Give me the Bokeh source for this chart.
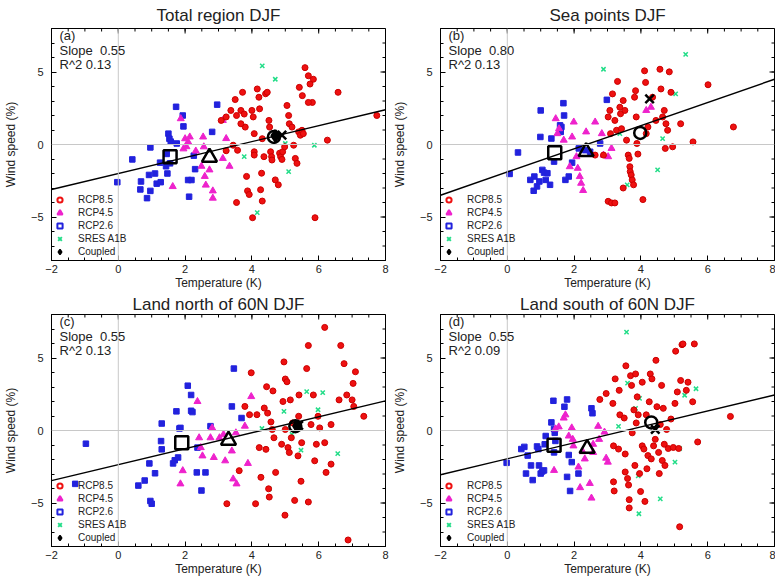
import numpy as np
from bokeh.plotting import figure
from bokeh.models import (Range1d, FixedTicker, Span, Label, Legend, LegendItem)
from bokeh.layouts import column, row
from bokeh.embed import file_html
from bokeh.resources import INLINE

# ---------------- data ----------------
X_MIN, X_MAX = -2, 8
Y_MIN, Y_MAX = -8, 8
X_TICKS = [-2, 0, 2, 4, 6, 8]
Y_TICKS = [-5, 0, 5]
SERIES_LABELS = ["RCP8.5", "RCP4.5", "RCP2.6", "SRES A1B", "Coupled"]

# Panel (a) Total region
A_TITLE = "Total region DJF"
A_TAG = "(a)"
A_SLOPE, A_R2, A_INTERCEPT = 0.55, 0.13, -2.0
A_RCP26_T = [0.42, -0.03, 0.66, 0.68, 0.86, 0.96, 0.92, 0.96, 1.1, 1.15, 1.27, 1.25, 1.43, 1.47, 1.45, 1.5, 1.53, 1.57, 1.73, 1.75, 1.93, 1.95, 2.09, 2.12, 2.19, 2.26, 2.3, 2.96, 2.81, 1.55]
A_RCP26_W = [-1.03, -2.6, -3.1, -2.55, -3.7, -3.2, -2.1, -0.2, -2.0, -2.7, -2.6, -1.25, -1.5, -2.0, -0.65, 0.75, 0.4, 0.2, 2.6, 0.07, 2.0, 1.25, -2.45, -3.6, -2.45, -0.77, -1.7, 2.75, 0.87, -1.3]
A_RCP45_T = [1.87, 2.0, 2.04, 2.09, 2.14, 1.95, 1.63, 2.54, 2.56, 2.59, 2.62, 2.83, 2.83, 2.73, 3.13, 3.23, 3.33, 3.13, 2.32, 2.49]
A_RCP45_W = [1.78, 0.4, -0.15, 0.18, 0.52, -0.3, -2.9, 0.52, -0.16, -2.2, -2.8, -3.2, -3.7, -1.75, -0.96, 0.41, -1.5, 1.66, -0.45, -1.5]
A_RCP85_T = [3.08, 3.23, 3.37, 3.44, 3.5, 3.54, 3.57, 3.72, 3.67, 3.77, 3.8, 3.84, 3.87, 3.92, 3.54, 4.0, 4.04, 4.07, 4.07, 4.02, 4.16, 4.21, 4.23, 4.26, 4.29, 4.31, 4.36, 4.41, 4.46, 4.51, 4.53, 4.56, 4.59, 4.6, 4.7, 4.79, 4.83, 4.86, 4.9, 4.92, 4.98, 5.05, 5.1, 5.12, 5.2, 5.25, 5.3, 5.35, 5.4, 5.45, 5.5, 5.54, 5.42, 5.51, 5.59, 5.69, 5.74, 5.84, 5.81, 5.69, 5.89, 6.26, 6.58, 7.74, 3.67, 4.07, 4.31, 4.7, 3.23]
A_RCP85_W = [1.66, 1.9, 2.35, -0.05, 3.1, 2.0, -0.4, 3.6, 2.35, 2.1, 1.2, -2.2, -3.2, -3.45, -4.0, 2.35, 1.9, -0.5, -0.73, -5.05, 3.83, 3.26, 2.46, -3.12, -1.98, -3.9, -0.84, 3.5, 3.6, 1.66, 1.2, -0.5, -0.84, -1.07, -2.44, -2.78, -0.6, -0.84, -1.03, -0.5, -0.16, 2.69, 2.0, 1.43, 1.2, -0.05, -0.96, -1.3, 0.87, 0.64, 0.98, 0.75, 3.94, 3.37, 5.3, 4.74, 4.17, 4.5, 2.9, 2.9, -5.05, 0.3, 3.6, 2.0, 1.43, 0.75, 0.4, 0.52, -0.43]
A_A1B_T = [4.31, 4.7, 4.16, 5.87, 5.1, 3.77, 5.0]
A_A1B_W = [5.42, 4.5, -4.7, -0.05, -1.87, -0.84, 0.07]
# means: RCP2.6, RCP4.5, RCP8.5, SRES A1B, Coupled
A_MEAN_T = [1.55, 2.73, 4.66, 4.9, 4.7]
A_MEAN_W = [-0.84, -0.89, 0.52, 0.64, 0.6]

# Panel (b) Sea points
B_TITLE = "Sea points DJF"
B_TAG = "(b)"
B_SLOPE, B_R2, B_INTERCEPT = 0.80, 0.13, -1.9
B_RCP26_T = [0.32, 0.07, 0.69, 0.79, 0.89, 0.81, 0.96, 0.99, 1.0, 1.05, 1.1, 1.15, 1.2, 1.28, 1.32, 1.4, 1.58, 1.6, 1.62, 1.68, 1.7, 1.74, 1.84, 1.94, 2.33, 2.48, 2.78, 2.98, 2.14]
B_RCP26_W = [-0.55, -2.03, -2.44, -3.19, -2.89, -2.21, -2.55, 0.52, 2.35, -1.75, -1.94, -2.44, -1.98, -2.78, 0.41, -1.18, 1.32, 0.87, 1.21, 2.85, 2.0, -2.44, -2.21, -1.25, -0.39, -0.5, 0.07, 3.08, -0.27]
B_RCP45_T = [1.45, 1.5, 1.55, 1.69, 1.87, 1.94, 1.99, 2.07, 2.11, 2.17, 2.21, 2.27, 2.36, 2.63, 2.83, 2.88, 3.02, 4.3, 4.16, 3.12]
B_RCP45_W = [1.78, 0.75, 1.09, 0.3, -1.53, 0.52, 1.55, -0.84, -1.64, -2.21, -2.67, -3.17, 0.87, 1.55, 0.75, -0.73, -0.84, 2.57, 2.35, -0.27]
B_RCP85_T = [3.02, 3.07, 3.09, 3.15, 3.22, 3.27, 3.3, 3.37, 3.39, 3.42, 3.47, 3.52, 3.57, 3.62, 3.65, 3.67, 3.68, 3.71, 3.74, 3.78, 3.81, 3.84, 3.86, 3.88, 3.91, 4.06, 4.11, 4.14, 4.16, 4.21, 4.35, 4.45, 4.57, 4.6, 4.65, 4.7, 4.75, 4.8, 4.85, 4.9, 4.73, 4.95, 5.19, 5.56, 6.01, 6.77, 3.02, 3.12, 3.22, 2.63, 2.88, 3.47]
B_RCP85_W = [1.9, 2.35, 0.75, 3.49, 1.66, 0.98, 4.35, 2.57, 2.12, 1.09, 3.03, 2.35, 0.3, -0.73, -0.96, -1.53, -1.87, -2.1, -2.44, -2.78, 3.26, 3.71, 1.9, 0.07, -0.66, -3.8, 5.08, 4.28, 0.75, 1.21, 3.26, 1.66, 5.19, 3.83, 1.9, 2.35, 1.43, 0.98, 5.01, 3.6, -0.27, -0.16, 1.43, 0.18, 4.12, 1.21, -3.92, -4.03, -4.03, -0.73, -0.73, -3.0]
B_A1B_T = [5.34, 2.88, 5.04, 4.5, 3.59, 4.65, 3.37]
B_A1B_W = [6.22, 5.19, 3.49, -1.75, -2.78, 0.41, 0.75]
B_MEAN_T = [1.42, 2.36, 3.98, 4.26]
B_MEAN_W = [-0.57, -0.5, 0.8, 3.14]

# Panel (c) Land north of 60N
C_TITLE = "Land north of 60N DJF"
C_TAG = "(c)"
C_SLOPE, C_R2, C_INTERCEPT = 0.55, 0.13, -2.36
C_RCP26_T = [-0.97, -1.29, 0.6, 0.79, 0.96, 1.0, 0.93, 1.1, 1.3, 1.28, 1.3, 1.64, 1.69, 1.74, 1.79, 1.83, 1.86, 2.08, 2.18, 2.18, 2.22, 2.35, 2.49, 2.61, 2.76, 3.46, 3.4, 3.69, 2.37]
C_RCP26_W = [-0.91, -3.68, -3.8, -3.45, -4.86, -5.05, -2.27, -2.95, 0.48, -0.73, -1.3, -2.27, -2.05, 1.32, -1.86, 0.14, 0.18, 3.09, 2.45, 1.36, 1.27, -2.89, -4.14, -2.89, 0.3, 4.27, 1.66, 0.86, -1.18]
C_RCP45_T = [1.86, 1.93, 2.37, 2.42, 2.47, 2.52, 2.76, 2.81, 2.86, 3.03, 3.15, 3.4, 3.44, 3.54, 3.88, 3.98, 3.79, 3.52, 3.2]
C_RCP45_W = [-3.68, -2.77, 2.0, -0.5, -1.18, -1.75, -0.5, 0.18, -1.86, -0.5, -0.27, -1.41, -3.34, -3.68, -2.27, 2.34, 0.3, -0.16, -2.09]
C_RCP85_T = [3.25, 3.62, 3.79, 3.93, 3.98, 4.11, 4.15, 4.22, 4.27, 4.37, 4.42, 4.44, 4.47, 4.5, 4.52, 4.57, 4.61, 4.63, 4.66, 4.71, 4.89, 4.93, 4.96, 4.99, 5.0, 5.05, 5.08, 5.12, 5.15, 5.18, 5.22, 5.28, 5.38, 5.4, 5.41, 5.47, 5.49, 5.64, 5.69, 5.69, 5.77, 5.84, 5.88, 5.93, 5.98, 6.03, 6.18, 6.18, 6.22, 6.37, 6.61, 6.66, 6.76, 6.84, 6.88, 7.03, 7.05, 7.1, 7.35, 7.0, 6.37, 5.0]
C_RCP85_W = [-5.05, -2.77, 1.66, 1.09, 3.98, -5.05, 1.09, -1.18, -3.23, 1.55, -1.3, 3.02, 1.2, -4.02, -4.59, 0.59, 0.07, 2.73, -0.5, -2.89, -0.95, 2.0, 4.73, -5.84, 3.55, 3.36, -1.18, -1.52, 2.11, -0.5, 0.52, -4.82, -1.75, 0.98, 2.45, -3.5, -0.84, 4.27, 5.86, -4.93, 0.41, 2.45, -2.09, -0.95, 0.98, 0.18, 7.11, -0.84, -2.89, -2.32, 2.11, 5.86, 4.61, 2.45, -7.55, 3.25, 1.66, 4.05, 0.98, 2.11, 0.41, 0.07]
C_A1B_T = [5.64, 5.98, 6.12, 5.2, 5.47, 6.57, 4.52, 4.3, 4.96]
C_A1B_W = [2.68, 1.43, 2.61, -0.27, -1.36, -1.59, -4.02, 0.14, 1.32]
C_MEAN_T = [1.9, 3.3, 5.3, 5.4, 5.35]
C_MEAN_W = [-0.84, -0.68, 0.3, 0.36, 0.3]

# Panel (d) Land south of 60N
D_TITLE = "Land south of 60N DJF"
D_TAG = "(d)"
D_SLOPE, D_R2, D_INTERCEPT = 0.55, 0.09, -1.95
D_RCP26_T = [-0.02, 0.42, 0.51, 0.61, 0.56, 0.71, 0.76, 0.89, 0.93, 0.95, 1.0, 1.05, 1.1, 1.12, 1.15, 1.32, 1.38, 1.4, 1.42, 1.44, 1.71, 1.79, 1.84, 1.88, 1.93, 2.13, 2.52, 2.55, 1.79, 1.4]
D_RCP26_W = [-2.23, -1.28, -1.13, -1.73, -2.97, -2.41, -3.42, -1.1, -1.28, -2.41, -2.97, -2.82, -2.75, -0.95, -0.38, 0.56, 2.05, 0.11, -0.16, -0.72, 1.64, 2.14, -1.69, -4.17, -2.18, -2.97, 1.53, 1.19, -3.2, -1.51]
D_RCP45_T = [1.4, 1.44, 1.54, 1.69, 1.74, 1.84, 1.93, 1.96, 1.98, 2.13, 2.18, 2.26, 2.32, 2.47, 2.52, 2.57, 2.72, 2.75, 2.91, 2.96, 3.01, 2.57]
D_RCP45_W = [-2.75, 0.11, 0.25, 0.86, 1.08, -0.38, 0.18, -0.61, -1.06, -2.52, -3.94, -1.46, -1.96, -3.65, -4.66, -1.51, 0.29, -0.61, -0.11, -1.91, -2.18, -0.95]
D_RCP85_T = [2.77, 2.96, 3.16, 3.18, 3.18, 3.23, 3.35, 3.37, 3.5, 3.53, 3.53, 3.55, 3.6, 3.63, 3.65, 3.65, 3.69, 3.72, 3.74, 3.79, 3.82, 3.84, 3.86, 3.89, 3.92, 3.96, 3.99, 4.04, 4.09, 4.12, 4.16, 4.18, 4.21, 4.25, 4.28, 4.31, 4.33, 4.38, 4.43, 4.45, 4.48, 4.53, 4.55, 4.58, 4.62, 4.64, 4.67, 4.7, 4.72, 4.77, 4.82, 4.9, 4.97, 5.02, 5.04, 5.09, 5.13, 5.16, 5.19, 5.23, 5.26, 5.36, 5.41, 5.55, 5.6, 5.7, 6.68, 4.04, 3.33, 3.2]
D_RCP85_W = [2.14, 2.55, 1.87, -1.06, -3.54, 3.56, 2.77, 1.08, 0.86, -1.62, -2.86, 4.46, -3.31, -3.76, -4.77, -5.34, 3.78, 3.11, -0.16, 1.42, -2.41, 3.9, 0.52, 2.32, 1.08, -2.97, -4.21, -1.06, -1.28, -4.89, 1.08, -2.64, -1.73, 1.98, 3.9, -1.96, 3.56, -1.06, -0.61, 4.84, 1.64, -1.51, -2.97, 0.41, 3.11, -2.07, 1.53, -0.95, -2.41, 0.07, -1.24, 0.79, -1.17, 1.87, 5.47, 2.66, -1.24, -6.64, 3.45, 5.92, 5.97, 2.77, 3.33, 1.98, 5.97, -0.79, 0.97, 3.33, -1.28, -4.17]
D_A1B_T = [3.57, 3.6, 3.96, 3.84, 3.92, 3.94, 4.58, 5.16, 5.31, 5.65, 3.33, 5.02]
D_A1B_W = [6.78, 3.27, 2.21, 1.53, -3.13, -5.74, -4.71, -1.24, 2.43, 2.88, 0.29, -2.18]
D_MEAN_T = [1.4, 2.39, 4.31, 4.43]
D_MEAN_W = [-1.01, -1.24, 0.56, 0.07]

# ---------------- style ----------------
FONT = "Liberation Sans"
RED, MAGENTA, BLUE, GREEN = "#ee1111", "#ee22cc", "#2222dd", "#22dd88"
FRAME_W, FRAME_H = 334, 232
MEAN_MARKERS = ["square", "triangle", "circle", "x", "diamond"]
MEAN_SIZES = [13, 15, 12, 12, 11]
MAJOR_LEN, MINOR_LEN = 5, 3  # px


def make_panel(title, tag, slope, r2, intercept, r26, r45, r85, a1b, means,
               border_left, border_right, title_standoff):
    p = figure(frame_width=FRAME_W, frame_height=FRAME_H,
               x_range=Range1d(X_MIN, X_MAX), y_range=Range1d(Y_MIN, Y_MAX),
               output_backend="svg", toolbar_location=None, title=title,
               min_border_left=border_left, min_border_right=border_right,
               min_border_top=10, min_border_bottom=0)
    p.title.text_font = FONT
    p.title.text_font_size = "17px"
    p.title.text_font_style = "normal"
    p.title.text_color = "#222222"
    p.title.align = "center"
    p.title.standoff = title_standoff
    p.grid.visible = False
    p.outline_line_color = "black"
    p.background_fill_color = "white"

    x_minor = list(np.arange(X_MIN, X_MAX + 0.01, 0.5))
    y_minor = list(range(Y_MIN, Y_MAX + 1))
    p.xaxis.ticker = FixedTicker(ticks=X_TICKS, minor_ticks=x_minor)
    p.yaxis.ticker = FixedTicker(ticks=Y_TICKS, minor_ticks=y_minor)
    for ax in p.axis:
        ax.axis_line_color = "black"
        ax.major_tick_in = MAJOR_LEN
        ax.major_tick_out = 0
        ax.minor_tick_in = MINOR_LEN
        ax.minor_tick_out = 0
        ax.major_label_text_font = FONT
        ax.major_label_text_font_size = "11px"
        ax.major_label_text_color = "#222222"
        ax.axis_label_text_font = FONT
        ax.axis_label_text_font_size = "12px"
        ax.axis_label_text_font_style = "normal"
        ax.axis_label_text_color = "#222222"
    p.xaxis.axis_label = "Temperature (K)"
    p.xaxis.major_label_standoff = 4
    p.xaxis.axis_label_standoff = 0
    p.yaxis.axis_label = "Wind speed (%)"
    p.yaxis.major_label_standoff = 8
    p.yaxis.axis_label_standoff = 10

    # mirrored ticks on the top and right edges
    ux = (X_MAX - X_MIN) / FRAME_W
    uy = (Y_MAX - Y_MIN) / FRAME_H
    p.segment(x0=X_TICKS, x1=X_TICKS, y0=[Y_MAX] * len(X_TICKS),
              y1=[Y_MAX - MAJOR_LEN * uy] * len(X_TICKS), line_color="black", line_width=1)
    p.segment(x0=x_minor, x1=x_minor, y0=[Y_MAX] * len(x_minor),
              y1=[Y_MAX - MINOR_LEN * uy] * len(x_minor), line_color="black", line_width=1)
    p.segment(x0=[X_MAX] * len(Y_TICKS), x1=[X_MAX - MAJOR_LEN * ux] * len(Y_TICKS),
              y0=Y_TICKS, y1=Y_TICKS, line_color="black", line_width=1)
    p.segment(x0=[X_MAX] * len(y_minor), x1=[X_MAX - MINOR_LEN * ux] * len(y_minor),
              y0=y_minor, y1=y_minor, line_color="black", line_width=1)

    p.add_layout(Span(location=0, dimension="height", line_color="#c8c8c8", line_width=1))
    p.add_layout(Span(location=0, dimension="width", line_color="#c8c8c8", line_width=1))

    p.scatter(a1b[0], a1b[1], marker="x", size=6, line_color=GREEN, line_width=1.5)
    p.scatter(r26[0], r26[1], marker="square", size=5.5, fill_color=BLUE, line_color=BLUE)
    p.scatter(r45[0], r45[1], marker="triangle", size=7, fill_color=MAGENTA, line_color=MAGENTA)
    p.scatter(r85[0], r85[1], marker="circle", size=6, fill_color=RED, line_color="#cc0000")

    xs = [X_MIN, X_MAX]
    p.line(xs, [intercept + slope * x for x in xs], line_color="black", line_width=1.4)

    mt, mw = means
    for i in range(len(mt)):
        filled = MEAN_MARKERS[i] == "diamond"
        p.scatter([mt[i]], [mw[i]], marker=MEAN_MARKERS[i], size=MEAN_SIZES[i],
                  fill_color="black" if filled else None, line_color="black",
                  line_width=2.5)

    # legend: key-only renderers (no visible data) styled like the reference key
    nan = [float("nan")]
    lg = [
        p.scatter(nan, nan, marker="circle", fill_color=None, line_color=RED, line_width=2),
        p.scatter(nan, nan, marker="triangle", fill_color=MAGENTA, line_color=MAGENTA, line_width=2),
        p.scatter(nan, nan, marker="square", fill_color=None, line_color=BLUE, line_width=2),
        p.scatter(nan, nan, marker="x", line_color=GREEN, line_width=2),
        p.scatter(nan, nan, marker="diamond", fill_color="black", line_color="black", line_width=1.5),
    ]
    legend = Legend(items=[LegendItem(label=l, renderers=[r]) for l, r in zip(SERIES_LABELS, lg)],
                    location="bottom_left", background_fill_alpha=0, border_line_alpha=0,
                    label_text_font=FONT, label_text_font_size="10px", label_text_color="#222222",
                    label_height=12, glyph_height=13, glyph_width=13, spacing=0,
                    padding=2, margin=0, label_standoff=12)
    p.add_layout(legend)

    dx = X_MIN + 0.24
    texts = ((tag, 7.55), (f"Slope\u00a0 {slope:.2f}", 6.45), (f"R^2 {r2:.2f}", 5.55))
    for txt, yy in texts:
        p.add_layout(Label(x=dx, y=yy, text=txt, text_font=FONT, text_font_size="13px",
                           text_color="#222222", text_baseline="middle"))
    return p


pa = make_panel(A_TITLE, A_TAG, A_SLOPE, A_R2, A_INTERCEPT,
                (A_RCP26_T, A_RCP26_W), (A_RCP45_T, A_RCP45_W),
                (A_RCP85_T, A_RCP85_W), (A_A1B_T, A_A1B_W),
                (A_MEAN_T, A_MEAN_W), 45, 4, 7)
pb = make_panel(B_TITLE, B_TAG, B_SLOPE, B_R2, B_INTERCEPT,
                (B_RCP26_T, B_RCP26_W), (B_RCP45_T, B_RCP45_W),
                (B_RCP85_T, B_RCP85_W), (B_A1B_T, B_A1B_W),
                (B_MEAN_T, B_MEAN_W), 47, 1, 7)
pc = make_panel(C_TITLE, C_TAG, C_SLOPE, C_R2, C_INTERCEPT,
                (C_RCP26_T, C_RCP26_W), (C_RCP45_T, C_RCP45_W),
                (C_RCP85_T, C_RCP85_W), (C_A1B_T, C_A1B_W),
                (C_MEAN_T, C_MEAN_W), 45, 4, 1)
pd = make_panel(D_TITLE, D_TAG, D_SLOPE, D_R2, D_INTERCEPT,
                (D_RCP26_T, D_RCP26_W), (D_RCP45_T, D_RCP45_W),
                (D_RCP85_T, D_RCP85_W), (D_A1B_T, D_A1B_W),
                (D_MEAN_T, D_MEAN_W), 47, 1, 1)

layout = column(row(pa, pb, spacing=0), row(pc, pd, spacing=0), spacing=0)
open("out.html", "w").write(file_html(layout, INLINE))
